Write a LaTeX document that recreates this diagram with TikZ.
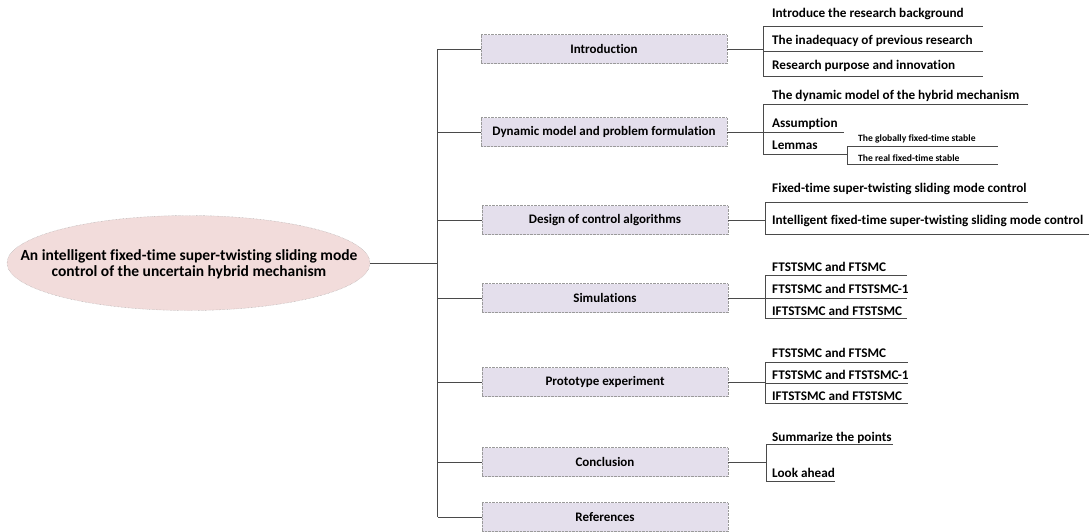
\documentclass[tikz,border=0pt]{standalone}
\usepackage{fontspec}
\setmainfont{Carlito}[Ligatures={NoCommon}]
\usetikzlibrary{shapes.geometric}
\definecolor{boxfill}{HTML}{E4DFEC}
\definecolor{ellfill}{HTML}{F2DCDB}
\definecolor{linec}{HTML}{4A4A4A}
\definecolor{dotc}{HTML}{9A9A9A}
\begin{document}
\begin{tikzpicture}[x=1pt,y=-1pt,
  conn/.style={draw=linec, line width=0.9pt},
  rootnode/.style={ellipse, draw=dotc, densely dotted, fill=ellfill, minimum width=363pt, minimum height=95pt, inner sep=0pt},
  roottext/.style={inner sep=0pt, align=center, font=\bfseries\fontsize{15.5}{16}\selectfont},
  secbox/.style={draw=dotc, densely dotted, fill=boxfill, minimum width=246pt, minimum height=29pt, inner sep=0pt, font=\bfseries\fontsize{13}{14}\selectfont},
  leaf/.style={anchor=base west, inner sep=0pt, font=\bfseries\fontsize{13.2}{14}\selectfont},
  smallleaf/.style={anchor=base west, inner sep=0pt, font=\bfseries\fontsize{9.6}{11}\selectfont}]
\useasboundingbox (0,0) rectangle (1091,531);

% root
\node[rootnode] (root) at (188.5,263) {};
\node[roottext] (rootlabel) at (189,264.5) {An intelligent fixed-time super-twisting sliding mode\\control of the uncertain hybrid mechanism};

% trunk
\coordinate (tr) at (437.5,263);
\coordinate (ttop) at (437.5,49);
\coordinate (tbot) at (437.5,517);

% section boxes
\node[secbox] (intro) at (604,49) {Introduction};
\node[secbox] (dyn) at (604,132) {Dynamic model and problem formulation};
\node[secbox] (des) at (605,220) {Design of control algorithms};
\node[secbox] (sim) at (605,298) {Simulations};
\node[secbox] (pro) at (605,382) {Prototype experiment};
\node[secbox] (con) at (605,462) {Conclusion};
\node[secbox] (ref) at (605,517) {References};

\draw[conn] (root.east) -- (tr);
\draw[conn] (ttop) -- (tbot);
\foreach \b in {intro,dyn,des,sim,pro,con,ref}{
  \draw[conn] (ttop |- \b.west) -- (\b.west);
}

% ---------- Introduction ----------
\coordinate (j1) at (763,49);
\node[leaf] (i1) at (772,17.5) {Introduce the research background};
\node[leaf] (i2) at (772,44) {The inadequacy of previous research};
\node[leaf] (i3) at (772,69) {Research purpose and innovation};
\coordinate (i1e) at (983,26);
\coordinate (i2e) at (983,51);
\coordinate (i3e) at (983,76);
\draw[conn] (intro.east) -- (j1);
\draw[conn] (j1 |- i1e) -- (j1 |- i3e);
\foreach \e in {i1e,i2e,i3e}{\draw[conn] (j1 |- \e) -- (\e);}

% ---------- Dynamic model ----------
\coordinate (j2) at (763,132);
\node[leaf] (d1) at (772,99) {The dynamic model of the hybrid mechanism};
\node[leaf] (d2) at (772,127) {Assumption};
\node[leaf] (d3) at (772,149) {Lemmas};
\coordinate (d1e) at (1028,104);
\coordinate (d2e) at (844,132);
\coordinate (d3e) at (847,154);
\draw[conn] (dyn.east) -- (j2);
\draw[conn] (j2 |- d1e) -- (j2 |- d3e);
\foreach \e in {d1e,d2e,d3e}{\draw[conn] (j2 |- \e) -- (\e);}
% lemmas children
\node[smallleaf] (l1) at (858,141.5) {The globally fixed-time stable};
\node[smallleaf] (l2) at (858,161) {The real fixed-time stable};
\coordinate (l1e) at (998,146);
\coordinate (l2e) at (998,164);
\draw[conn] (d3e |- l1e) -- (d3e |- l2e);
\foreach \e in {l1e,l2e}{\draw[conn] (d3e |- \e) -- (\e);}

% ---------- Design ----------
\coordinate (j3) at (765,220);
\node[leaf] (g1) at (772,192.5) {Fixed-time super-twisting sliding mode control};
\node[leaf] (g2) at (772,224.5) {Intelligent fixed-time super-twisting sliding mode control};
\coordinate (g1e) at (1028,202);
\coordinate (g2e) at (1089,234);
\draw[conn] (des.east) -- (j3);
\draw[conn] (j3 |- g1e) -- (j3 |- g2e);
\foreach \e in {g1e,g2e}{\draw[conn] (j3 |- \e) -- (\e);}

% ---------- Simulations ----------
\coordinate (j4) at (765,298);
\node[leaf] (s1) at (772,271) {FTSTSMC and FTSMC};
\node[leaf] (s2) at (772,293.5) {FTSTSMC and FTSTSMC-1};
\node[leaf] (s3) at (772,315) {IFTSTSMC and FTSTSMC};
\coordinate (s1e) at (907,275);
\coordinate (s2e) at (907,298);
\coordinate (s3e) at (907,318);
\draw[conn] (sim.east) -- (j4);
\draw[conn] (j4 |- s1e) -- (j4 |- s3e);
\foreach \e in {s1e,s2e,s3e}{\draw[conn] (j4 |- \e) -- (\e);}

% ---------- Prototype ----------
\coordinate (j5) at (765,382);
\node[leaf] (p1) at (772,357.5) {FTSTSMC and FTSMC};
\node[leaf] (p2) at (772,379) {FTSTSMC and FTSTSMC-1};
\node[leaf] (p3) at (772,400) {IFTSTSMC and FTSTSMC};
\coordinate (p1e) at (908,362);
\coordinate (p2e) at (908,383);
\coordinate (p3e) at (908,403);
\draw[conn] (pro.east) -- (j5);
\draw[conn] (j5 |- p1e) -- (j5 |- p3e);
\foreach \e in {p1e,p2e,p3e}{\draw[conn] (j5 |- \e) -- (\e);}

% ---------- Conclusion ----------
\coordinate (j6) at (766,462);
\node[leaf] (c1) at (772,441) {Summarize the points};
\node[leaf] (c2) at (772,477.5) {Look ahead};
\coordinate (c1e) at (893,444);
\coordinate (c2e) at (835,481);
\draw[conn] (con.east) -- (j6);
\draw[conn] (j6 |- c1e) -- (j6 |- c2e);
\foreach \e in {c1e,c2e}{\draw[conn] (j6 |- \e) -- (\e);}
\end{tikzpicture}
\end{document}
